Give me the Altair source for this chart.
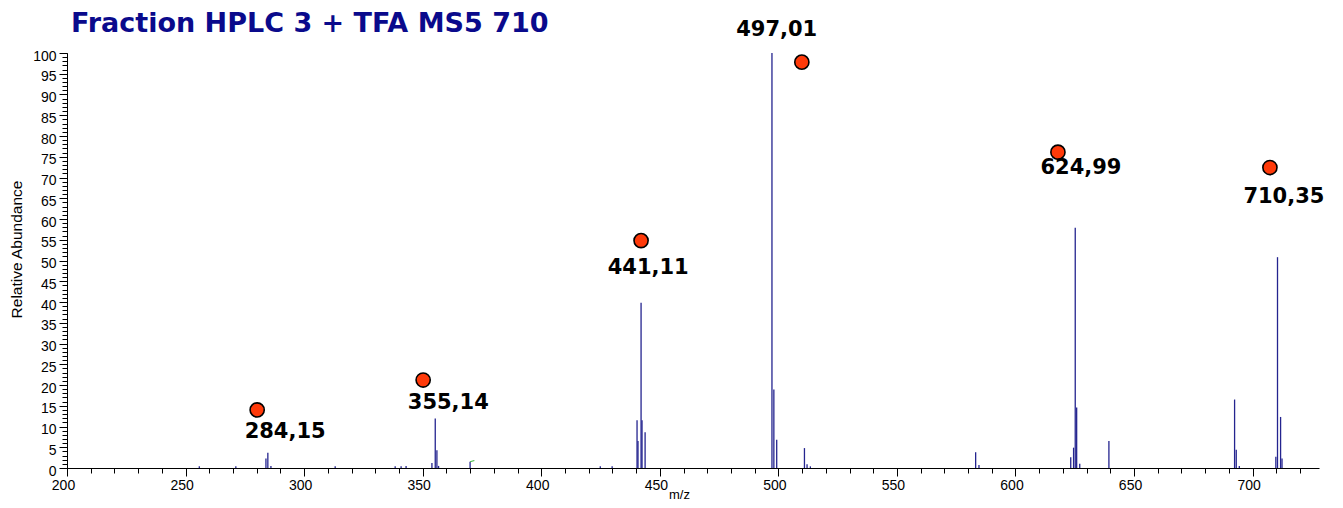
import altair as alt
import pandas as pd

# ---- data ----
peak_mz = [255.8, 271.2, 283.9, 284.7, 286.0, 313.1, 338.4, 340.9, 343.0,
           353.9, 355.3, 356.0, 356.7, 370.0,
           424.9, 429.9, 440.4, 440.8, 442.1, 442.5, 443.8,
           497.3, 498.1, 499.3, 511.0, 512.1, 513.5,
           583.2, 584.6, 623.3, 624.5, 625.2, 625.8, 627.1, 639.4,
           692.4, 693.1, 694.4, 709.8, 710.5, 711.8, 712.4]
peak_int = [0.4, 0.4, 2.3, 3.7, 0.5, 0.4, 0.4, 0.4, 0.5,
            1.2, 11.9, 4.3, 0.5, 1.5,
            0.4, 0.4, 11.5, 6.5, 39.8, 11.5, 8.6,
            100, 18.9, 6.8, 4.8, 0.9, 0.4,
            3.8, 0.7, 2.6, 4.9, 57.9, 14.6, 1.0, 6.5,
            16.5, 4.4, 0.5, 2.7, 50.8, 12.3, 2.3]

green_mz = [370.0, 371.8]
green_int = [1.5, 1.8]

ann_label = ["284,15", "355,14", "441,11", "497,01", "624,99", "710,35"]
ann_dot_mz = [280.2, 350.2, 442.1, 509.9, 617.9, 707.3]
ann_dot_int = [14.0, 21.2, 54.8, 97.8, 76.1, 72.4]
ann_text_mz = [292.0, 360.8, 445.1, 499.3, 627.6, 713.2]
ann_text_int = [8.6, 15.6, 48.3, 105.6, 72.2, 65.2]

x_major_ticks = list(range(200, 701, 50))
x_minor_ticks = list(range(200, 721, 10))
y_major_ticks = list(range(0, 101, 5))
y_minor_ticks = list(range(0, 101, 1))

# ---- tables ----
peaks = pd.DataFrame({"mz": peak_mz, "intensity": peak_int})
green = pd.DataFrame({"mz": green_mz, "intensity": green_int})
dots = pd.DataFrame({"mz": ann_dot_mz, "intensity": ann_dot_int})
texts = pd.DataFrame({"mz": ann_text_mz, "intensity": ann_text_int, "label": ann_label})

AX_FONT = "Liberation Sans"
x_scale = alt.Scale(domain=[200, 728], nice=False, zero=False)
y_scale = alt.Scale(domain=[0, 100], nice=False)

x_major = alt.Axis(values=x_major_ticks, orient="bottom", tickSize=8, tickColor="black",
                   domainColor="black", labelFont=AX_FONT, labelFontSize=14,
                   labelColor="black", labelPadding=2, labelFlush=False, labelOffset=-4,
                   grid=False,
                   title="m/z", titleFont=AX_FONT, titleFontSize=13,
                   titleFontWeight="normal", titleColor="black",
                   titleX=612, titleY=26, titleBaseline="middle")
x_minor = alt.Axis(values=x_minor_ticks, orient="bottom", tickSize=5, tickColor="black",
                   domain=False, labels=False, grid=False, title="")
y_major = alt.Axis(values=y_major_ticks, orient="left", tickSize=8, tickColor="black",
                   domainColor="black", labelFont=AX_FONT, labelFontSize=14,
                   labelColor="black", labelPadding=3, labelOffset=3, grid=False,
                   title="Relative Abundance", titleFont=AX_FONT, titleFontSize=15.5,
                   titleFontWeight="normal", titleColor="black",
                   titleX=-51, titleY=196, titleBaseline="middle", titleAlign="center")
y_minor = alt.Axis(values=y_minor_ticks, orient="left", tickSize=5, tickColor="black",
                   domain=False, labels=False, grid=False, title="")

peak_layer = alt.Chart(peaks).mark_rule(color="#24248f", strokeWidth=1.3).encode(
    x=alt.X("mz:Q", scale=x_scale, axis=x_major),
    y=alt.Y("intensity:Q", scale=y_scale, axis=y_major),
    y2=alt.datum(0),
)

minor_layer = alt.Chart(peaks).mark_rule(opacity=0).encode(
    x=alt.X("mz:Q", scale=x_scale, axis=x_minor),
    y=alt.Y("intensity:Q", scale=y_scale, axis=y_minor),
)

green_layer = alt.Chart(green).mark_line(color="#44bb44", strokeWidth=1.2).encode(
    x=alt.X("mz:Q", scale=x_scale, axis=None),
    y=alt.Y("intensity:Q", scale=y_scale, axis=None),
)

dot_layer = alt.Chart(dots).mark_point(filled=True, shape="circle", size=200,
                                       fill="#ff3a0a", stroke="black",
                                       strokeWidth=1.6, opacity=1).encode(
    x=alt.X("mz:Q", scale=x_scale, axis=None),
    y=alt.Y("intensity:Q", scale=y_scale, axis=None),
)

text_layer = alt.Chart(texts).mark_text(font="DejaVu Sans", fontSize=21, fontWeight="bold",
                                        color="black", align="center",
                                        baseline="middle").encode(
    x=alt.X("mz:Q", scale=x_scale, axis=None),
    y=alt.Y("intensity:Q", scale=y_scale, axis=None),
    text="label:N",
)

chart = alt.layer(peak_layer, minor_layer, green_layer, dot_layer, text_layer).resolve_axis(
    x="independent", y="independent"
).properties(
    width=1252,
    height=415,
    padding={"left": 59, "top": 45, "right": 16, "bottom": 32},
    autosize=alt.AutoSizeParams(type="none"),
    title=alt.TitleParams("Fraction HPLC 3 + TFA MS5 710", anchor="start", frame="group",
                          font="DejaVu Sans", fontSize=27, fontWeight="bold",
                          color="#0a0a8c", offset=6, dx=4, dy=25),
).configure_view(stroke=None)

chart.save("out.html", embed_options={"renderer": "svg", "actions": False})
